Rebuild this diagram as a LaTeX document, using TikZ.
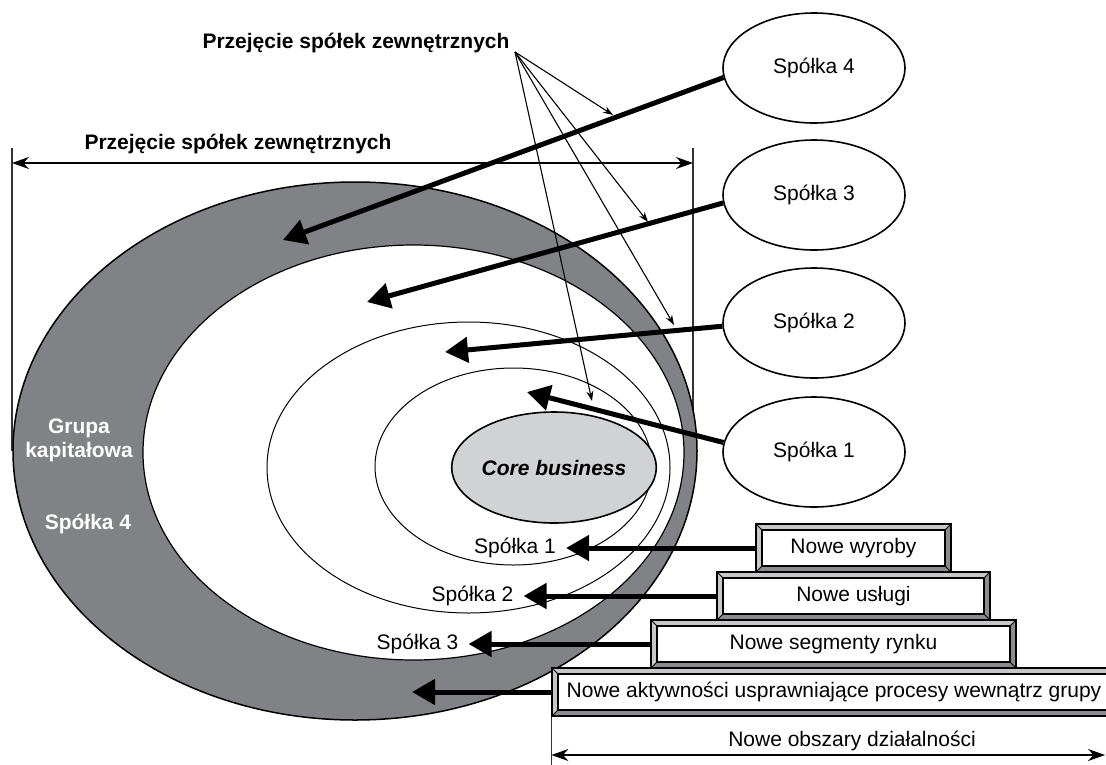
\documentclass[tikz,border=0pt]{standalone}
\usepackage{fontspec}
\setmainfont{Liberation Sans}
\usetikzlibrary{arrows.meta,shapes.geometric}

\definecolor{ringgray}{HTML}{808285}
\definecolor{coregray}{HTML}{D1D2D4}
\definecolor{bevlight}{HTML}{C6C7C9}
\definecolor{bevdark}{HTML}{8A8B8E}

\begin{document}
\begin{tikzpicture}[
  x=1pt, y=-1pt,
  font=\fontsize{21}{24}\selectfont,
  ringbox/.style={ellipse, draw, inner sep=0pt},
  firm/.style={ellipse, draw, line width=1.6pt, fill=white, minimum width=182pt, minimum height=110pt, inner sep=0pt},
  bevelbox/.style={rectangle, draw, line width=1.2pt, fill=bevdark, minimum height=48pt, inner sep=0pt,
    path picture={
      \coordinate (bnw) at (path picture bounding box.north west);
      \coordinate (bne) at (path picture bounding box.north east);
      \coordinate (bse) at (path picture bounding box.south east);
      \coordinate (bsw) at (path picture bounding box.south west);
      \fill[bevlight] (bnw) -- (bne) -- ([shift={(-6,6)}]bne) -- ([shift={(6,6)}]bnw) -- ([shift={(6,-6)}]bsw) -- (bsw) -- cycle;
      \draw[line width=1pt] (bnw) -- ++(6,6) (bne) -- ++(-6,6) (bse) -- ++(-6,-6) (bsw) -- ++(6,-6);
      \draw[line width=1.2pt, fill=white] ([shift={(6,6)}]bnw) rectangle ([shift={(-6,-6)}]bse);
    }},
  ringlab/.style={inner xsep=10pt, inner ysep=0pt},
  whitelab/.style={text=white, font=\fontsize{21}{24}\selectfont\bfseries, align=center},
  boldlab/.style={font=\fontsize{21}{24}\selectfont\bfseries},
  bigarr/.style={line width=5pt, -{Triangle[length=23pt,width=25pt]}},
  thinarr/.style={line width=1.1pt, -{Stealth[length=10pt,width=7pt]}},
  dimarr/.style={line width=1.1pt, {Stealth[length=17pt,width=12pt]}-{Stealth[length=17pt,width=12pt]}},
  dimline/.style={line width=1.1pt, black!80}
]
\useasboundingbox (0,0) rectangle (1106,764);

\coordinate (dimtl) at (12,148);
\coordinate (dimtr) at (693,148);
\coordinate (dimbl) at (12,451);
\coordinate (dimbr) at (693,451);
\draw [dimline] (dimtl) -- (dimbl);
\draw [dimline] (dimtr) -- (dimbr);
\draw [dimarr] (dimtl |- 0,163) -- (dimtr |- 0,163);
\node (przej2) [boldlab] at (238,144) {Przejęcie spółek zewnętrznych};

\node (ring4) [ringbox, fill=ringgray, line width=1.5pt, minimum width=684pt, minimum height=538pt] at (355,451) {};
\node (ring3) [ringbox, fill=white, line width=1.2pt, minimum width=541pt, minimum height=415pt] at (413.5,452.5) {};
\node (ring2) [ringbox, line width=1pt, minimum width=403pt, minimum height=291pt] at (468.5,467.5) {};
\node (ring1) [ringbox, line width=1pt, minimum width=277pt, minimum height=197pt] at (513.5,466.5) {};
\node (core) [ringbox, fill=coregray, line width=1.6pt, minimum width=184pt, minimum height=111pt, font=\fontsize{21}{24}\selectfont\bfseries\itshape] at (554,467.5) {Core business};

\node (grupa) [whitelab] at (79,440) {Grupa\\kapitałowa};
\node (lab4) [whitelab] at (88,523.5) {Spółka 4};
\node (lab1) [ringlab] at (515,548) {Spółka 1};
\node (lab2) [ringlab] at (472.5,596) {Spółka 2};
\node (lab3) [ringlab] at (417.5,644) {Spółka 3};

\node (s4) [firm] at (814,68) {Spółka 4};
\node (s3) [firm] at (814,195) {Spółka 3};
\node (s2) [firm] at (814,323) {Spółka 2};
\node (s1) [firm] at (814,452) {Spółka 1};

\coordinate (t4) at (283,240);
\coordinate (t3) at (367,302);
\coordinate (t2) at (445,352);
\coordinate (t1) at (527,392);
\draw [bigarr] (s4.186) -- (t4);
\draw [bigarr] (s3.185) -- (t3);
\draw [bigarr] (s2.182) -- (t2);
\draw [bigarr] (s1.174) -- (t1);

\node (przej) [boldlab] at (356,43) {Przejęcie spółek zewnętrznych};
\coordinate (src) at (515,52);
\coordinate (p4) at (613,115);
\coordinate (p3) at (648,222);
\coordinate (p2) at (674,325);
\coordinate (p1) at (592,401);
\foreach \p in {p4,p3,p2,p1}
  \draw [thinarr] (src) -- (\p);

\node (wyroby) [bevelbox, minimum width=195pt] at (853.5,548) {Nowe wyroby};
\node (uslugi) [bevelbox, minimum width=273pt] at (853.5,596) {Nowe usługi};
\node (rynek) [bevelbox, minimum width=365pt] at (833.5,644) {Nowe segmenty rynku};
\node (aktyw) [bevelbox, minimum width=564pt] at (834,692) {Nowe aktywności usprawniające procesy wewnątrz grupy};

\coordinate (t5) at (412,692);
\draw [bigarr] (wyroby.west) -- (lab1.east);
\draw [bigarr] (uslugi.west) -- (lab2.east);
\draw [bigarr] (rynek.west) -- (lab3.east);
\draw [bigarr] (aktyw.west) -- (t5);

\coordinate (dimend) at (1105,755);
\draw [dimline] (aktyw.south west) -- ++(0,48);
\draw [dimarr] (aktyw.south west |- dimend) -- (dimend);
\node (obszary) at (852,741) {Nowe obszary działalności};

\end{tikzpicture}
\end{document}
